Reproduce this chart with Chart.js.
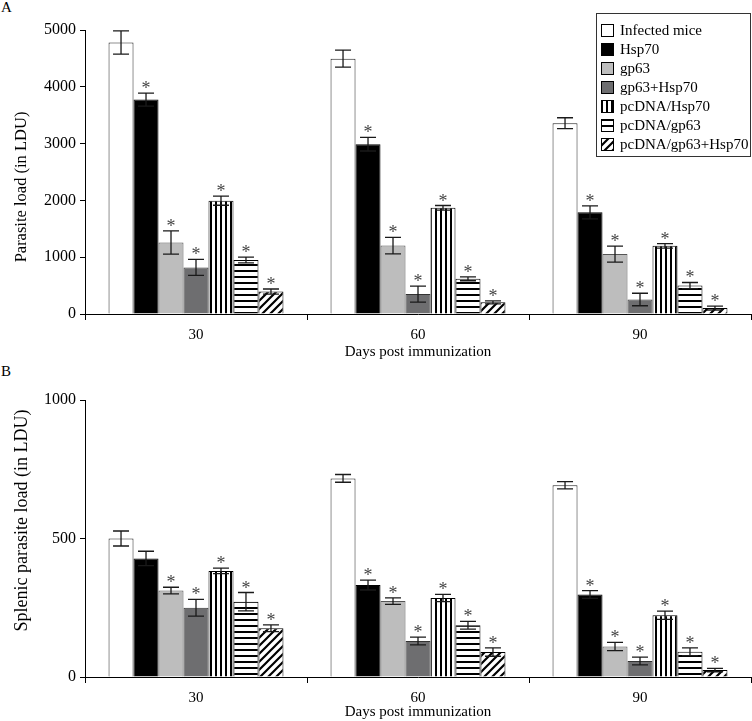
<!DOCTYPE html>
<html><head><meta charset="utf-8">
<script src="https://cdn.jsdelivr.net/npm/chart.js@4/dist/chart.umd.min.js"></script>
<style>
html,body{margin:0;padding:0;background:#fff;}
body{width:752px;height:721px;position:relative;overflow:hidden;font-family:"Liberation Serif","DejaVu Serif",serif;color:#000;}
#cA{position:absolute;left:0;top:0;}
#cB{position:absolute;left:0;top:361px;}
.panel{position:absolute;left:1px;font-size:15px;line-height:18px;}
#legend{position:absolute;left:596px;top:13px;width:153px;height:142px;border:1px solid #333;background:#fff;font-size:15px;}
.row{position:absolute;left:4px;height:19px;display:flex;align-items:center;white-space:nowrap;line-height:19px;}
.row canvas{margin-right:6px;display:block;}
</style></head><body>
<div class="panel" style="top:-2px">A</div>
<div class="panel" style="top:362px">B</div>
<canvas id="cA" width="752" height="361"></canvas>
<canvas id="cB" width="752" height="360"></canvas>
<div id="legend"></div>
<script>
// ---- data ----
const categories = ['30', '60', '90'];
const seriesNames = ['Infected mice', 'Hsp70', 'gp63', 'gp63+Hsp70', 'pcDNA/Hsp70', 'pcDNA/gp63', 'pcDNA/gp63+Hsp70'];

// Panel A: parasite load (LDU)
const aInfected = [4780, 4495, 3360];
const aHsp70 = [3775, 2990, 1790];
const aGp63 = [1260, 1205, 1055];
const aGp63Hsp70 = [820, 350, 255];
const aPcHsp70 = [1995, 1870, 1200];
const aPcGp63 = [950, 620, 500];
const aPcGp63Hsp70 = [395, 205, 105];
const aInfectedErr = [205, 150, 95];
const aHsp70Err = [115, 120, 115];
const aGp63Err = [205, 145, 140];
const aGp63Hsp70Err = [140, 140, 110];
const aPcHsp70Err = [80, 40, 40];
const aPcGp63Err = [50, 35, 55];
const aPcGp63Hsp70Err = [45, 25, 35];
const aStars = [[0,0,0],[1,1,1],[1,1,1],[1,1,1],[1,1,1],[1,1,1],[1,1,1]];
const aTicks = [0, 1000, 2000, 3000, 4000, 5000];

// Panel B: splenic parasite load (LDU)
const bInfected = [500, 717, 692];
const bHsp70 = [428, 332, 298];
const bGp63 = [312, 274, 110];
const bGp63Hsp70 = [250, 130, 58];
const bPcHsp70 = [383, 285, 223];
const bPcGp63 = [272, 187, 91];
const bPcGp63Hsp70 = [176, 90, 25];
const bInfectedErr = [27, 14, 13];
const bHsp70Err = [26, 18, 14];
const bGp63Err = [12, 12, 15];
const bGp63Hsp70Err = [30, 14, 14];
const bPcHsp70Err = [10, 13, 15];
const bPcGp63Err = [33, 14, 14];
const bPcGp63Hsp70Err = [12, 15, 6];
const bStars = [[0,0,0],[0,1,1],[1,1,1],[1,1,1],[1,1,1],[1,1,1],[1,1,1]];
const bTicks = [0, 500, 1000];

// ---- styles ----
const FONT = '"Liberation Serif", "Times New Roman", serif';
Chart.defaults.font.family = FONT;
Chart.defaults.color = '#000';

function makePattern(ctx, kind) {
  const c = document.createElement('canvas');
  let g;
  if (kind === 'v') {
    c.width = 5; c.height = 5; g = c.getContext('2d');
    g.fillStyle = '#fff'; g.fillRect(0,0,5,5);
    g.fillStyle = '#000'; g.fillRect(0,0,2,5);
  } else if (kind === 'h') {
    c.width = 6; c.height = 6; g = c.getContext('2d');
    g.fillStyle = '#fff'; g.fillRect(0,0,6,6);
    g.fillStyle = '#000'; g.fillRect(0,0,6,2);
  } else {
    const s = 8;
    c.width = s; c.height = s; g = c.getContext('2d');
    g.fillStyle = '#fff'; g.fillRect(0,0,s,s);
    g.strokeStyle = '#000'; g.lineWidth = 2.2;
    g.beginPath();
    g.moveTo(-1, s+1); g.lineTo(s+1, -1);
    g.moveTo(-1, 1); g.lineTo(1, -1);
    g.moveTo(s-1, s+1); g.lineTo(s+1, s-1);
    g.stroke();
  }
  return ctx.createPattern(c, 'repeat');
}

function fills(ctx) {
  return [
    {bg: '#ffffff', bd: '#222'},
    {bg: '#000000', bd: '#000'},
    {bg: '#bdbdbd', bd: '#555'},
    {bg: '#6e6e70', bd: '#333'},
    {bg: makePattern(ctx, 'v'), bd: '#000'},
    {bg: makePattern(ctx, 'h'), bd: '#000'},
    {bg: makePattern(ctx, 'd'), bd: '#000'}
  ];
}

const errorBarPlugin = {
  id: 'errorBars',
  afterDatasetsDraw(chart, args, opts) {
    const ctx = chart.ctx;
    const y = chart.scales.y;
    ctx.save();
    chart.data.datasets.forEach((ds, i) => {
      const meta = chart.getDatasetMeta(i);
      meta.data.forEach((bar, j) => {
        const v = ds.data[j];
        const e = opts.errors[i][j];
        const yT = y.getPixelForValue(v + e);
        const yB = y.getPixelForValue(Math.max(v - e, 0));
        const x = bar.x;
        ctx.strokeStyle = '#1a1a1a';
        ctx.lineWidth = 1.3;
        ctx.beginPath();
        ctx.moveTo(x, yT); ctx.lineTo(x, yB);
        ctx.moveTo(x - 8, yT); ctx.lineTo(x + 8, yT);
        ctx.moveTo(x - 8, yB); ctx.lineTo(x + 8, yB);
        ctx.stroke();
        if (opts.stars[i][j]) {
          ctx.fillStyle = '#444';
          ctx.font = '18px ' + FONT;
          ctx.textAlign = 'center';
          ctx.textBaseline = 'alphabetic';
          ctx.fillText('*', x, yT + 1);
        }
      });
    });
    ctx.restore();
  }
};

const yTitlePlugin = {
  id: 'yTitle',
  afterDraw(chart, args, opts) {
    const ctx = chart.ctx;
    const a = chart.chartArea;
    ctx.save();
    ctx.translate(opts.x, (a.top + a.bottom) / 2 + opts.dy);
    ctx.rotate(-Math.PI / 2);
    ctx.font = opts.size + 'px ' + FONT;
    ctx.fillStyle = '#000';
    ctx.textAlign = 'center';
    ctx.textBaseline = 'middle';
    ctx.fillText(opts.text, 0, 0);
    ctx.restore();
  }
};

function makeChart(id, values, errors, stars, ticks, yTitle, padTop, xHeight, titleDy, titleSize) {
  const canvas = document.getElementById(id);
  const ctx = canvas.getContext('2d');
  const f = fills(ctx);
  const datasets = values.map((d, i) => ({
    label: seriesNames[i],
    data: d,
    backgroundColor: f[i].bg,
    borderColor: f[i].bd,
    borderWidth: 1,
    categoryPercentage: 0.788,
    barPercentage: 1.0
  }));
  return new Chart(ctx, {
    type: 'bar',
    data: { labels: categories, datasets },
    plugins: [errorBarPlugin, yTitlePlugin],
    options: {
      responsive: false,
      animation: false,
      layout: { padding: { left: 0, right: 1, top: padTop, bottom: 0 } },
      plugins: {
        legend: { display: false },
        tooltip: { enabled: false },
        errorBars: { errors, stars },
        yTitle: { text: yTitle, x: 22, dy: titleDy, size: titleSize }
      },
      scales: {
        x: {
          offset: true,
          grid: { display: true, drawOnChartArea: false, drawTicks: true, tickLength: 6, color: '#000', offset: true },
          border: { display: true, color: '#000', width: 1 },
          ticks: { font: { size: 15 }, color: '#000', padding: 6, maxRotation: 0 },
          title: { display: true, text: 'Days post immunization', font: { size: 15 }, color: '#000', padding: { top: 0, bottom: 0 } },
          afterFit(scale) { scale.height = xHeight; }
        },
        y: {
          min: ticks[0],
          max: ticks[ticks.length - 1],
          afterBuildTicks(scale) { scale.ticks = ticks.map(v => ({ value: v })); },
          grid: { display: true, drawOnChartArea: false, drawTicks: true, tickLength: 5, color: '#000' },
          border: { display: true, color: '#000', width: 1 },
          ticks: { font: { size: 16 }, color: '#000', padding: 4, callback: v => String(v) },
          afterFit(scale) { scale.width = 85; }
        }
      }
    }
  });
}

makeChart('cA',
  [aInfected, aHsp70, aGp63, aGp63Hsp70, aPcHsp70, aPcGp63, aPcGp63Hsp70],
  [aInfectedErr, aHsp70Err, aGp63Err, aGp63Hsp70Err, aPcHsp70Err, aPcGp63Err, aPcGp63Hsp70Err],
  aStars, aTicks, 'Parasite load (in LDU)', 30, 47, 15, 16.5);

makeChart('cB',
  [bInfected, bHsp70, bGp63, bGp63Hsp70, bPcHsp70, bPcGp63, bPcGp63Hsp70],
  [bInfectedErr, bHsp70Err, bGp63Err, bGp63Hsp70Err, bPcHsp70Err, bPcGp63Err, bPcGp63Hsp70Err],
  bStars, bTicks, 'Splenic parasite load (in LDU)', 39, 44, -18, 18);

// ---- legend (HTML) ----
(function () {
  const lg = document.getElementById('legend');
  seriesNames.forEach((name, i) => {
    const row = document.createElement('div');
    row.className = 'row';
    row.style.top = (6.5 + 19 * i) + 'px';
    const sw = document.createElement('canvas');
    sw.width = 13; sw.height = 13;
    const g = sw.getContext('2d');
    const f = fills(g)[i];
    g.fillStyle = f.bg; g.fillRect(0, 0, 13, 13);
    g.strokeStyle = '#000'; g.lineWidth = 1;
    g.strokeRect(0.5, 0.5, 12, 12);
    row.appendChild(sw);
    const t = document.createElement('span');
    t.textContent = name;
    row.appendChild(t);
    lg.appendChild(row);
  });
})();
</script>
</body></html>
